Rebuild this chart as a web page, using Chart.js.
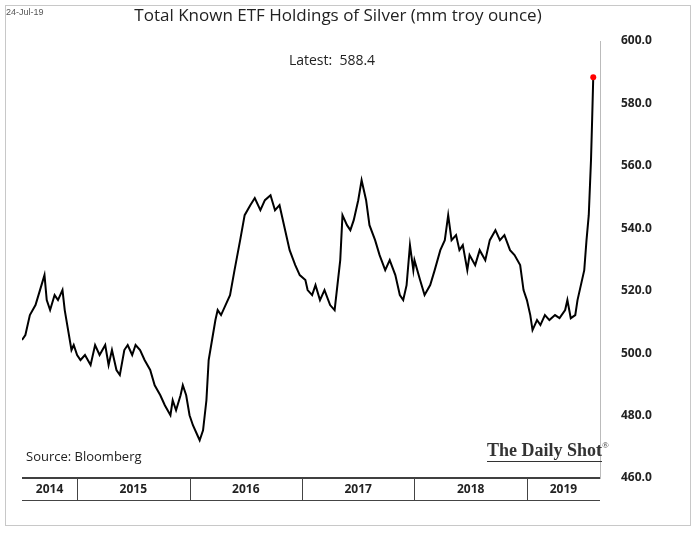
<!DOCTYPE html>
<html><head><meta charset="utf-8">
<script src="https://cdn.jsdelivr.net/npm/chart.js@4/dist/chart.umd.min.js"></script>
<style>body{margin:0;background:#fff}canvas{display:block}</style></head>
<body><canvas id="c" width="697" height="538"></canvas>
<script>
const dates=[2014.51,2014.54,2014.58,2014.63,2014.67,2014.71,2014.73,2014.76,2014.80,2014.83,2014.87,2014.89,2014.92,2014.95,2014.97,2015.00,
2015.03,2015.07,2015.12,2015.16,2015.20,2015.25,2015.28,2015.31,2015.35,2015.38,2015.42,2015.45,2015.49,2015.52,2015.56,2015.60,2015.65,2015.69,2015.74,2015.78,2015.83,2015.85,2015.88,2015.92,2015.94,2015.97,2016.00,
2016.03,2016.07,2016.09,2016.12,2016.15,2016.17,2016.20,2016.23,2016.25,2016.28,2016.32,2016.36,2016.40,2016.45,2016.49,2016.54,2016.58,2016.63,2016.67,2016.72,2016.76,2016.80,2016.85,2016.89,2016.94,2016.98,
2017.03,2017.05,2017.09,2017.12,2017.16,2017.20,2017.25,2017.29,2017.34,2017.36,2017.40,2017.43,2017.46,2017.50,2017.53,2017.57,2017.60,2017.65,2017.69,2017.74,2017.78,2017.83,2017.87,2017.90,2017.93,2017.96,2017.99,
2018.00,2018.05,2018.09,2018.14,2018.18,2018.23,2018.27,2018.30,2018.33,2018.37,2018.40,2018.43,2018.47,2018.49,2018.54,2018.58,2018.63,2018.67,2018.72,2018.76,2018.80,2018.85,2018.89,2018.94,2018.97,
2019.00,2019.03,2019.05,2019.09,2019.12,2019.16,2019.20,2019.25,2019.29,2019.34,2019.36,2019.39,2019.43,2019.45,2019.48,2019.51,2019.53,2019.55,2019.57,2019.58,2019.59];
const holdings=[504.2,505.8,512.2,515.4,520.2,525.0,517.0,513.8,518.6,517.0,520.2,513.8,507.4,501.0,502.6,499.4,
497.8,499.4,496.2,502.6,499.4,502.6,496.2,501.0,494.6,493.0,501.0,502.6,499.4,502.6,501.0,497.8,494.6,489.7,486.5,483.3,480.1,484.9,481.7,486.5,489.7,486.5,480.1,
476.9,473.7,472.1,475.3,484.9,497.8,504.2,510.6,513.8,512.2,515.4,518.6,526.6,536.2,544.2,547.4,549.7,545.8,549.0,550.6,545.8,547.4,539.4,533.0,528.2,525.0,
523.4,520.2,518.6,521.8,517.0,520.2,515.4,513.8,529.8,544.2,541.0,539.4,542.6,549.0,555.4,549.0,541.0,536.2,531.4,526.6,529.8,525.0,518.6,517.0,521.8,534.6,526.6,
529.8,523.4,518.6,521.8,526.6,533.0,536.2,544.2,536.2,537.8,533.0,534.6,526.6,531.4,528.2,533.0,529.8,536.2,539.4,536.2,537.8,533.0,531.4,528.2,520.2,
517.0,512.2,507.4,510.6,509.0,512.2,510.6,512.2,511.2,513.8,517.0,511.2,512.2,517.0,521.8,526.6,536.2,544.2,561.9,574.7,588.4];
const years=[2014,2015,2016,2017,2018,2019];
const yTicks=[460,480,500,520,540,560,580,600];
const latest=588.4;
const XMIN=2014.51, XMAX=2019.65;

const deco={id:'deco',
 beforeDraw(ch){const c=ch.ctx;c.save();c.fillStyle='#fff';c.fillRect(0,0,697,538);
  c.strokeStyle='#c8c8c8';c.lineWidth=1;c.strokeRect(5.5,5.5,685,520);c.restore();},
 afterDraw(ch){const c=ch.ctx,x=ch.scales.x,a=ch.chartArea;c.save();
  c.strokeStyle='#000';c.lineWidth=1.5;
  c.beginPath();c.moveTo(a.left,a.bottom);c.lineTo(a.right,a.bottom);c.stroke();
  c.lineWidth=1;c.strokeStyle='#444';
  c.beginPath();c.moveTo(a.left,a.bottom+22.5);c.lineTo(a.right,a.bottom+22.5);c.stroke();
  c.fillStyle='#222';c.font='bold 12px "Open Sans", Arial';c.textAlign='center';c.textBaseline='middle';
  years.forEach(y=>{const s=Math.max(XMIN,y),e=Math.min(XMAX,y+1);
   if(y>XMIN){const px=Math.round(x.getPixelForValue(y))+0.5;c.beginPath();c.moveTo(px,a.bottom);c.lineTo(px,a.bottom+22);c.stroke();}
   c.fillText(String(y),(x.getPixelForValue(s)+x.getPixelForValue(e))/2,a.bottom+12);});
  c.font='17px "Open Sans", Arial';c.fillStyle='#222';c.fillText('Total Known ETF Holdings of Silver (mm troy ounce)',338,16);
  c.font='14px "Open Sans", Arial';c.fillText('Latest:  '+latest.toFixed(1),332,61);
  c.textAlign='left';c.font='9px Arial';c.fillStyle='#555';c.fillText('24-Jul-19',6,13);
  c.font='13px "Open Sans", Arial';c.fillStyle='#222';c.fillText('Source: Bloomberg',26,457);
  c.font='bold 18px "Liberation Serif", serif';c.fillStyle='#333';c.fillText('The Daily Shot',487,451);
  c.fillRect(487,461,115,1);
  c.font='9px serif';c.fillText('®',602,446);
  const px=x.getPixelForValue(dates[dates.length-1]),py=ch.scales.y.getPixelForValue(latest);
  c.fillStyle='#ff0000';c.beginPath();c.arc(px,py,3,0,Math.PI*2);c.fill();
  c.restore();}};

new Chart(document.getElementById('c'),{type:'line',
 data:{datasets:[{data:dates.map((d,i)=>({x:d,y:holdings[i]})),borderColor:'#000',borderWidth:2,pointRadius:0,tension:0}]},
 options:{responsive:false,animation:false,
  layout:{padding:{left:22,top:41,bottom:60,right:0}},
  plugins:{legend:{display:false},tooltip:{enabled:false}},
  scales:{x:{type:'linear',min:XMIN,max:XMAX,display:false},
   y:{position:'right',min:460,max:600,afterBuildTicks(s){s.ticks=yTicks.map(v=>({value:v}));},
    afterFit(s){s.width=97;},
    grid:{display:false,drawTicks:false},border:{display:true,color:'#bbb'},
    ticks:{padding:21,color:'#222',font:{size:12,family:'"Open Sans", Arial',weight:'bold'},callback:v=>v.toFixed(1)}}}},
 plugins:[deco]});
</script></body></html>
